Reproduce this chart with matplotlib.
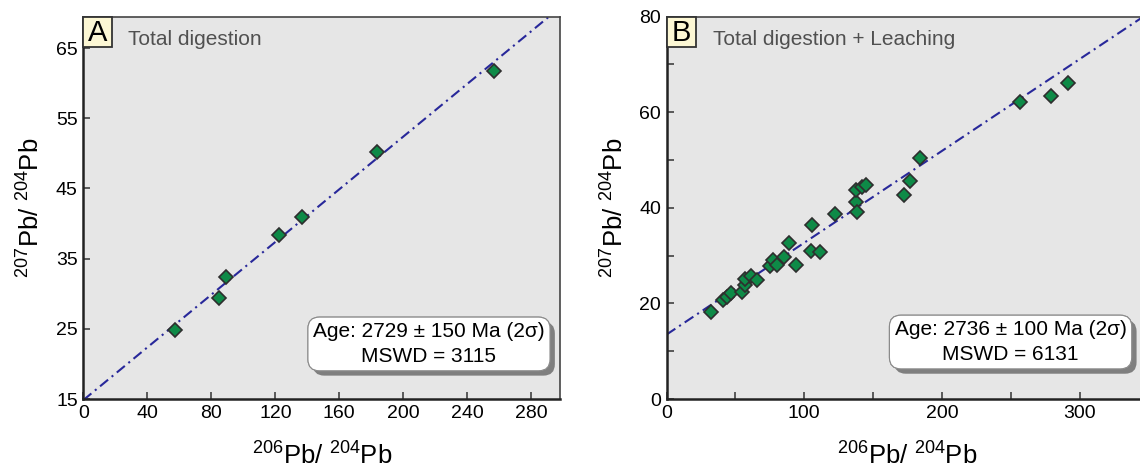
import matplotlib
matplotlib.use("Agg")
import matplotlib.pyplot as plt
import matplotlib.patheffects as pe
from matplotlib.patches import Rectangle
from matplotlib.ticker import MultipleLocator
import numpy as np

plt.rcParams['font.family'] = ['Liberation Sans', 'DejaVu Sans']
plt.rcParams['mathtext.fontset'] = 'custom'
plt.rcParams['mathtext.rm'] = 'Liberation Sans'
plt.rcParams['mathtext.it'] = 'Liberation Sans:italic'
plt.rcParams['mathtext.bf'] = 'Liberation Sans:bold'

# ---- data: panel A (total digestion) ----
pb206_a = [57.1, 85.1, 88.9, 122.2, 136.9, 183.8, 256.6]
pb207_a = [24.85, 29.4, 32.4, 38.4, 40.9, 50.2, 61.7]
iso_a = (14.85, 0.1877)   # intercept, slope
yticks_a = [15, 25, 35, 45, 55, 65]
age_a = 'Age: 2729 ± 150 Ma (2σ)\nMSWD = 3115'

# ---- data: panel B (total digestion + leaching) ----
pb206_b = [32.2, 41.1, 44.0, 46.5, 54.5, 56.9, 56.9, 61.0, 65.4, 75.1,
           77.5, 80.4, 85.5, 89.1, 94.0, 104.6, 105.4, 111.4, 122.3, 137.4,
           138.5, 137.6, 141.7, 144.8, 172.5, 176.8, 184.0, 256.8, 279.0, 291.8]
pb207_b = [18.2, 20.8, 21.4, 22.1, 22.4, 23.8, 25.0, 25.7, 24.8, 27.8,
           29.0, 28.1, 29.6, 32.6, 28.1, 31.0, 36.5, 30.8, 38.6, 41.2,
           39.2, 43.8, 44.3, 44.8, 42.7, 45.5, 50.4, 62.1, 63.4, 66.1]
iso_b = (13.5, 0.1919)
age_b = 'Age: 2736 ± 100 Ma (2σ)\nMSWD = 6131'

xlabel = r'$^{206}$Pb/ $^{204}$Pb'
ylabel = r'$^{207}$Pb/ $^{204}$Pb'

GREEN = '#0e8a47'
LINE = '#28289a'
BG = '#e6e6e6'

fig = plt.figure(figsize=(11.4, 4.73), dpi=100)
axA = fig.add_axes([0.0731, 0.1564, 0.4182, 0.8087])
axB = fig.add_axes([0.5848, 0.1564, 0.4225, 0.8087])


def style_axes(ax):
    ax.set_facecolor(BG)
    for side in ['left', 'bottom']:
        ax.spines[side].set_linewidth(1.8)
        ax.spines[side].set_color('#222222')
    for side in ['top', 'right']:
        ax.spines[side].set_linewidth(1.2)
        ax.spines[side].set_color('#444444')
    ax.tick_params(which='both', direction='in', length=5, width=1.1,
                   color='#333333', labelsize=14, pad=4)
    ax.tick_params(which='minor', length=5)


def panel(ax, x, y, iso, xmax, letter, title, box_text, box_xy, letter_w):
    xs = np.array([0, xmax])
    ax.plot(xs, iso[0] + iso[1] * xs, color=LINE, lw=1.5,
            linestyle=(0, (5.0, 2.2, 1.0, 2.2)), zorder=2)
    ax.plot(x, y, linestyle='none', marker='D', markersize=7.6,
            markerfacecolor=GREEN, markeredgecolor='#2e2e2e',
            markeredgewidth=1.2, zorder=3)

    # panel letter in its small yellow box
    ax.add_patch(Rectangle((0, 0.919), letter_w, 0.081, transform=ax.transAxes,
                           facecolor='#fcf7d4', edgecolor='#333333', lw=1.3,
                           zorder=5, clip_on=False))
    ax.text(letter_w / 2, 0.958, letter, transform=ax.transAxes,
            ha='center', va='center', fontsize=21, zorder=6)
    ax.text(letter_w + 0.035, 0.94, title, transform=ax.transAxes,
            ha='left', va='center', fontsize=15, color='#505050')

    t = ax.text(box_xy[0], box_xy[1], box_text, transform=ax.transAxes,
                ha='center', va='center', fontsize=15, linespacing=1.35,
                multialignment='center', zorder=6,
                bbox=dict(boxstyle='round,pad=0.25,rounding_size=0.55',
                          facecolor='white', edgecolor='#8a8a8a', lw=0.8))
    t.get_bbox_patch().set_path_effects([
        pe.withSimplePatchShadow(offset=(3.5, -3.5), shadow_rgbFace='#7f7f7f',
                                 alpha=1.0),
        pe.Normal()])

    ax.set_xlabel(xlabel, fontsize=18.5, labelpad=15)
    ax.set_ylabel(ylabel, fontsize=18.5, labelpad=8)


style_axes(axA)
axA.set_xlim(0, 298)
axA.set_ylim(15, 69.5)
axA.xaxis.set_major_locator(MultipleLocator(40))
axA.set_yticks(yticks_a)
panel(axA, pb206_a, pb207_a, iso_a, 300, 'A', 'Total digestion',
      age_a, (0.725, 0.144), 0.0596)

style_axes(axB)
axB.set_xlim(0, 350)
axB.set_ylim(0, 80)
axB.xaxis.set_major_locator(MultipleLocator(100))
axB.xaxis.set_minor_locator(MultipleLocator(50))
axB.yaxis.set_major_locator(MultipleLocator(20))
axB.yaxis.set_minor_locator(MultipleLocator(10))
panel(axB, pb206_b, pb207_b, iso_b, 350, 'B', 'Total digestion + Leaching',
      age_b, (0.714, 0.149), 0.061)

fig.savefig('out.png', dpi=100)
